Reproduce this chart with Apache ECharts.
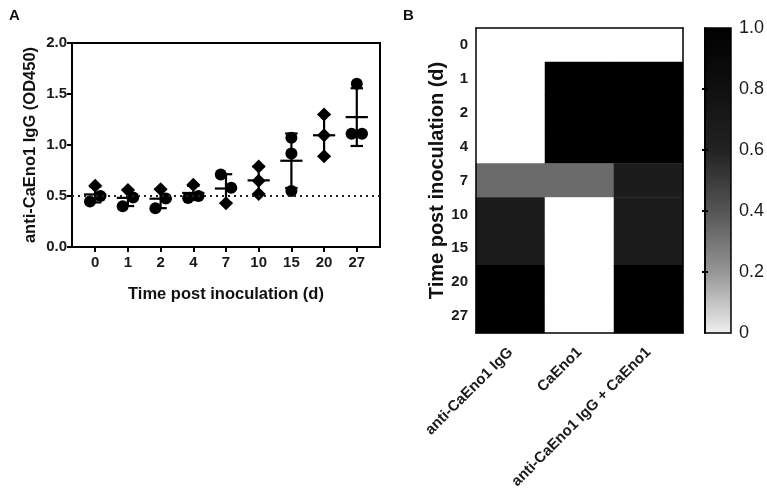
<!DOCTYPE html>
<html>
<head>
<meta charset="utf-8">
<script src="https://cdn.jsdelivr.net/npm/echarts@6/dist/echarts.min.js"></script>
<style>
html,body{margin:0;padding:0;background:#fff;}
#main{width:767px;height:495px;}
</style>
</head>
<body>
<div id="main"></div>
<script>
// ---------- Data: panel A ----------
const days = ['0','1','2','4','7','10','15','20','27'];
// readings per day, split by marker shape
const circleValues  = [[0.446,0.50],[0.40,0.485],[0.38,0.475],[0.48,0.50],[0.71,0.58],[],[1.07,0.917,0.55],[],[1.60,1.11,1.11]];
const circleSpread  = [[-1,1],[-1,1],[-1,1],[-1,1],[-1,1],[],[0,0,0],[],[0,-1,1]];
const diamondValues = [[0.60],[0.56],[0.566],[0.61],[0.43],[0.79,0.65,0.52],[],[1.30,1.096,0.89],[]];
const thresholdA = 0.5;

// ---------- Data: panel B ----------
const treatments = ['anti-CaEno1 IgG','CaEno1','anti-CaEno1 IgG + CaEno1'];
const rateIgG    = [0,0,0,0,0.333,0.667,0.667,1,1];
const rateCaEno1 = [0,1,1,1,0.333,0,0,0,0];
const rateBoth   = [0,1,1,1,0.667,0.667,0.667,1,1];
const colorScale = ['#ffffff','#969696','#555555','#222222','#101010','#000000'];
const barTicks = [0.2,0.4,0.6,0.8];

// ---------- derived ----------
const groupStats = days.map((d,i)=>{
  const vals = circleValues[i].concat(diamondValues[i]);
  const n = vals.length;
  const m = vals.reduce((a,b)=>a+b,0)/n;
  const sd = Math.sqrt(vals.reduce((a,b)=>a+(b-m)*(b-m),0)/(n-1));
  return [i, m, sd];
});
const SPREAD = 0.16;
const circleData = [];
circleValues.forEach((arr,i)=>arr.forEach((v,j)=>circleData.push([i + circleSpread[i][j]*SPREAD, v])));
const diamondData = [];
diamondValues.forEach((arr,i)=>arr.forEach(v=>diamondData.push([i, v])));

const heatData = [];
[rateIgG, rateCaEno1, rateBoth].forEach((col,ci)=>col.forEach((v,ri)=>heatData.push([ci, ri, v])));

const barStops = ['#f0f0f0'].concat(colorScale.slice(1));
const gradStops = barStops.map((c,i)=>({offset: 1 - i/(barStops.length-1), color: c}));

const FONT = 'Liberation Sans, Arial, sans-serif';
const boldLab = {fontFamily: FONT, fontWeight: 'bold', color: '#1a1a1a'};

const chart = echarts.init(document.getElementById('main'), null, {renderer:'canvas'});
chart.setOption({
  animation: false,
  backgroundColor: '#fff',
  title: [
    {text:'A', left: 4, top: 3, textStyle:{fontFamily:FONT, fontWeight:'bold', fontSize:15, color:'#111'}},
    {text:'B', left: 398, top: 3, textStyle:{fontFamily:FONT, fontWeight:'bold', fontSize:15, color:'#111'}}
  ],
  grid: [
    {left: 72, top: 43, width: 308, height: 204, show: true, borderColor:'#000', borderWidth: 2, backgroundColor:'transparent'},
    {left: 476, top: 28, width: 207, height: 305, show: false},
    {left: 705, top: 28, width: 27, height: 305, show: true, borderColor:'#000', borderWidth: 1.5,
     backgroundColor: {type:'linear', x:0, y:0, x2:0, y2:1, colorStops: gradStops}}
  ],
  visualMap: {
    show: false, type: 'continuous', min: 0, max: 1, seriesIndex: 3,
    inRange: {color: colorScale}
  },
  xAxis: [
    {gridIndex: 0, type: 'value', min: -0.71, max: 8.71,
     name: 'Time post inoculation (d)', nameLocation: 'middle', nameGap: 39,
     nameTextStyle: {fontFamily: FONT, fontWeight:'bold', fontSize: 16.5, color:'#111'},
     splitLine: {show:false},
     axisLine: {show:true, onZero:false, lineStyle:{color:'#000', width:2}},
     axisTick: {show:true, customValues: days.map((d,i)=>i), length: 5, lineStyle:{color:'#000', width:2}},
     axisLabel: Object.assign({customValues: days.map((d,i)=>i), formatter: v=>days[Math.round(v)], fontSize: 15, margin: 8}, boldLab)
    },
    {gridIndex: 1, type: 'category', data: treatments, position: 'bottom', z: 10,
     axisLine: {show:true, lineStyle:{color:'#000', width:1.5}},
     axisTick: {show:false},
     axisLabel: Object.assign({rotate: 45, interval: 0, fontSize: 15, margin: 17}, boldLab),
     splitLine: {show:false}
    },
    {gridIndex: 1, type: 'category', data: treatments, position: 'top', z: 10,
     axisLine: {show:true, lineStyle:{color:'#000', width:1.5}},
     axisTick: {show:false}, axisLabel: {show:false}, splitLine: {show:false}
    },
    {gridIndex: 2, type: 'value', min: 0, max: 1, show: false}
  ],
  yAxis: [
    {gridIndex: 0, type: 'value', min: 0, max: 2, interval: 0.5,
     name: 'anti-CaEno1 IgG (OD450)', nameLocation: 'middle', nameGap: 33,
     nameTextStyle: {fontFamily: FONT, fontWeight:'bold', fontSize: 16.5, color:'#111'},
     splitLine: {show:false},
     axisLine: {show:true, onZero:false, lineStyle:{color:'#000', width:2}},
     axisTick: {show:true, length: 5, lineStyle:{color:'#000', width:2}},
     axisLabel: Object.assign({formatter: v=>v.toFixed(1), fontSize: 15, margin: 5}, boldLab)
    },
    {gridIndex: 1, type: 'category', data: days, inverse: true, position: 'left', z: 10,
     name: 'Time post inoculation (d)', nameLocation: 'middle', nameGap: 26,
     nameTextStyle: {fontFamily: FONT, fontWeight:'bold', fontSize: 20, color:'#111'},
     axisLine: {show:true, lineStyle:{color:'#000', width:1.5}},
     axisTick: {show:false},
     axisLabel: Object.assign({fontSize: 15, margin: 8}, boldLab),
     splitLine: {show:false}
    },
    {gridIndex: 1, type: 'category', data: days, inverse: true, position: 'right', z: 10,
     axisLine: {show:true, lineStyle:{color:'#000', width:1.5}},
     axisTick: {show:false}, axisLabel: {show:false}, splitLine: {show:false}
    },
    {gridIndex: 2, type: 'value', min: 0, max: 1, interval: 0.2, position: 'right', z: 10,
     axisLine: {show:true, lineStyle:{color:'#000', width:1.5}},
     axisTick: {show:true, inside: true, length: 3, customValues: barTicks, lineStyle:{color:'#000', width:2}},
     axisLabel: {formatter: v=> v===0 ? '0' : v.toFixed(1), fontFamily: FONT, fontSize: 18, color:'#1a1a1a', margin: 8},
     splitLine: {show:false}
    },
    {gridIndex: 2, type: 'value', min: 0, max: 1, interval: 0.2, position: 'left', z: 10,
     axisLine: {show:true, lineStyle:{color:'#000', width:1.5}},
     axisTick: {show:true, inside: true, length: 3, customValues: barTicks, lineStyle:{color:'#000', width:2}},
     axisLabel: {show:false}, splitLine: {show:false}
    }
  ],
  series: [
    {type: 'custom', xAxisIndex: 0, yAxisIndex: 0, data: groupStats, z: 3,
     renderItem: function(params, api){
       const x = api.value(0), m = api.value(1), s = api.value(2);
       const unit = api.size([1,0])[0];
       const c = api.coord([x, m]);
       const t = api.coord([x, m+s]);
       const b = api.coord([x, m-s]);
       const mh = unit*0.34, ch = unit*0.19;
       const st = {stroke:'#000', lineWidth: 2.2};
       return {type:'group', children:[
         {type:'line', shape:{x1:c[0], y1:t[1], x2:c[0], y2:b[1]}, style: st},
         {type:'line', shape:{x1:c[0]-mh, y1:c[1], x2:c[0]+mh, y2:c[1]}, style: st},
         {type:'line', shape:{x1:c[0]-ch, y1:t[1], x2:c[0]+ch, y2:t[1]}, style: st},
         {type:'line', shape:{x1:c[0]-ch, y1:b[1], x2:c[0]+ch, y2:b[1]}, style: st}
       ]};
     },
     markLine: {silent: true, symbol: 'none', label:{show:false},
       lineStyle: {type: [2,4], color:'#222', width: 2},
       data: [{yAxis: thresholdA}]}
    },
    {type: 'scatter', xAxisIndex: 0, yAxisIndex: 0, data: circleData, symbol: 'circle', symbolSize: 12,
     itemStyle: {color:'#000', opacity: 1}, z: 4},
    {type: 'scatter', xAxisIndex: 0, yAxisIndex: 0, data: diamondData, symbol: 'diamond', symbolSize: 14,
     itemStyle: {color:'#000', opacity: 1}, z: 4},
    {type: 'heatmap', xAxisIndex: 1, yAxisIndex: 1, data: heatData, itemStyle: {borderWidth: 0}}
  ]
});
</script>
</body>
</html>
